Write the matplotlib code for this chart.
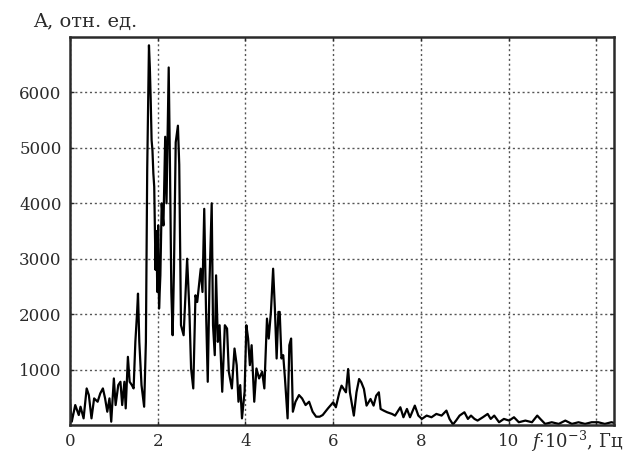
"""Amplitude spectrum, redrawn as a line plot in the style of a scanned figure."""

import matplotlib

matplotlib.use("Agg")

import matplotlib.pyplot as plt  # noqa: E402

# frequency, kHz (f·10^-3, Hz) and amplitude, arbitrary units
freq = [
    0.00, 0.04, 0.12, 0.20, 0.24, 0.31, 0.38, 0.43, 0.49, 0.55, 0.63, 0.69,
    0.75, 0.80, 0.85, 0.90, 0.94, 1.00, 1.04, 1.10, 1.15, 1.19, 1.24, 1.27,
    1.32, 1.36, 1.41, 1.45, 1.49, 1.53, 1.55, 1.58, 1.63, 1.69, 1.73, 1.76,
    1.80, 1.82, 1.84, 1.86, 1.88, 1.90, 1.92, 1.95, 1.97, 1.99, 2.01, 2.03,
    2.06, 2.09, 2.13, 2.17, 2.20, 2.25, 2.28, 2.31, 2.34, 2.37, 2.41, 2.46,
    2.49, 2.53, 2.59, 2.67, 2.72, 2.76, 2.81, 2.86, 2.90, 2.94, 2.98, 3.02,
    3.06, 3.10, 3.14, 3.18, 3.23, 3.26, 3.30, 3.33, 3.37, 3.41, 3.47, 3.53,
    3.58, 3.62, 3.69, 3.75, 3.80, 3.84, 3.88, 3.92, 3.98, 4.02, 4.06, 4.10,
    4.14, 4.20, 4.25, 4.31, 4.38, 4.43, 4.49, 4.53, 4.58, 4.63, 4.67, 4.71,
    4.75, 4.78, 4.82, 4.86, 4.90, 4.96, 5.00, 5.04, 5.08, 5.14, 5.22, 5.29,
    5.37, 5.45, 5.53, 5.61, 5.69, 5.76, 5.88, 6.00, 6.06, 6.14, 6.19, 6.29,
    6.34, 6.38, 6.47, 6.53, 6.59, 6.64, 6.70, 6.76, 6.85, 6.92, 6.98, 7.04,
    7.08, 7.15, 7.23, 7.34, 7.41, 7.53, 7.60, 7.68, 7.75, 7.86, 7.94, 8.02,
    8.13, 8.24, 8.35, 8.47, 8.58, 8.65, 8.73, 8.80, 8.88, 8.99, 9.07, 9.14,
    9.22, 9.29, 9.41, 9.52, 9.59, 9.67, 9.78, 9.89, 10.01, 10.12, 10.23, 10.38,
    10.53, 10.65, 10.72, 10.83, 10.98, 11.14, 11.29, 11.44, 11.59, 11.74, 11.89, 12.04,
    12.19, 12.34, 12.40,
]
amp = [
    420, 60, 360, 180, 330, 120, 660, 540, 120, 480, 420, 570,
    660, 480, 240, 480, 60, 840, 360, 720, 780, 360, 780, 300,
    1230, 780, 720, 660, 1500, 2040, 2370, 1500, 720, 330, 1500, 4600,
    6850, 6450, 5860, 5140, 4950, 4540, 4300, 2800, 3500, 2400, 3600, 2100,
    2700, 4000, 3600, 5200, 4000, 6450, 4600, 2400, 1620, 2820, 5100, 5400,
    4700, 1800, 1620, 3000, 2100, 1020, 660, 2340, 2220, 2520, 2820, 2400,
    3900, 2100, 780, 2580, 4000, 1800, 1260, 2700, 1500, 1800, 600, 1800,
    1740, 960, 660, 1380, 1080, 420, 720, 120, 600, 1800, 1560, 1080,
    1440, 420, 1020, 840, 960, 660, 1920, 1560, 2040, 2820, 2100, 1200,
    2040, 2040, 1200, 1260, 840, 120, 1440, 1560, 240, 420, 540, 480,
    360, 420, 240, 150, 150, 180, 300, 410, 320, 590, 710, 590,
    1010, 590, 170, 590, 830, 770, 650, 350, 470, 350, 530, 590,
    290, 260, 230, 200, 170, 320, 140, 290, 140, 350, 170, 110,
    170, 140, 200, 170, 260, 110, 10, 80, 170, 230, 110, 170,
    110, 80, 140, 200, 110, 170, 50, 110, 80, 140, 50, 80,
    50, 170, 110, 20, 50, 20, 80, 20, 50, 20, 50, 50,
    20, 50, 40,
]

x_ticks = [0, 2, 4, 6, 8, 10, 12]
x_tick_labels = ["0", "2", "4", "6", "8", "10", ""]
y_ticks = [1000, 2000, 3000, 4000, 5000, 6000]

INK = "#2a2a2a"

# DejaVu Serif is wide and heavy, closer to the blurred scan lettering
plt.rcParams["font.family"] = ["DejaVu Serif"]
plt.rcParams["mathtext.fontset"] = "dejavuserif"

fig = plt.figure(figsize=(6.38, 4.55), dpi=100)
ax = fig.add_axes([0.1097, 0.0659, 0.8527, 0.8528])

ax.plot(freq, amp, color="black", linewidth=1.6)

ax.set_xlim(0, 12.4)
ax.set_ylim(0, 7000)
ax.set_xticks(x_ticks)
ax.set_xticklabels(x_tick_labels)
ax.set_yticks(y_ticks)
ax.tick_params(direction="in", length=3, width=1, colors=INK, labelsize=12,
               top=True, right=True, pad=6)
ax.grid(True, color="#555555", linestyle=(0, (1.5, 2)), linewidth=1)
for spine in ax.spines.values():
    spine.set_linewidth(1.8)
    spine.set_color(INK)

fig.text(0.052, 0.952, "A, отн. ед.", fontsize=14, color=INK, va="center", ha="left")
fig.text(0.832, 0.030, r"$f$·10$^{-3}$, Гц", fontsize=13, color=INK,
         va="center", ha="left")

fig.savefig("out.png", dpi=100, facecolor="white")
